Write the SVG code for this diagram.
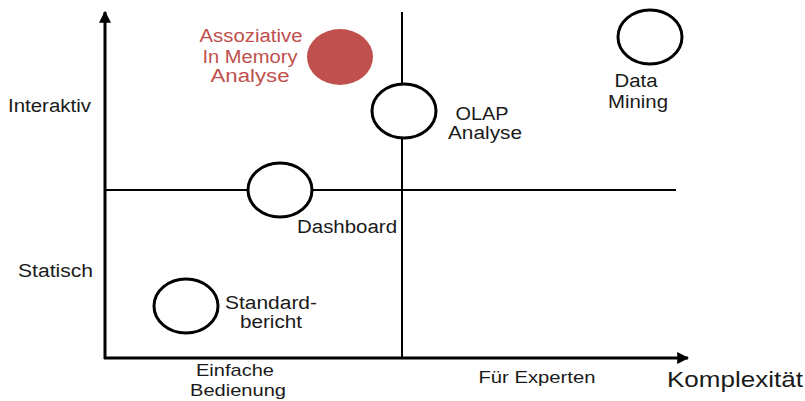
<svg xmlns="http://www.w3.org/2000/svg" width="805" height="401" viewBox="0 0 805 401">
<style>
text{font-family:"Liberation Sans",Arial,sans-serif;fill:#1a1a1a;font-size:18px}
.red{fill:#c0504d}
.c{text-anchor:middle}
.node{fill:none;stroke:#000;stroke-width:3}
.axis{stroke:#000;stroke-width:3;fill:none}
.div{stroke:#000;stroke-width:2;fill:none}
</style>
<defs>
<marker id="arr" viewBox="0 0 10 10" refX="9" refY="5" markerWidth="4" markerHeight="4" orient="auto"><path d="M0,0 L10,5 L0,10 z" fill="#000"/></marker>
</defs>
<g id="connectors">
<line class="axis" x1="105" y1="359" x2="105" y2="12" marker-end="url(#arr)"/>
<line class="axis" x1="104" y1="358" x2="688" y2="358" marker-end="url(#arr)"/>
<line class="div" x1="402" y1="12" x2="402" y2="358"/>
<line class="div" x1="105" y1="190" x2="676" y2="190"/>
</g>
<g id="axis-labels">
<text x="8" y="112" textLength="83" lengthAdjust="spacingAndGlyphs">Interaktiv</text>
<text x="18" y="277" textLength="75" lengthAdjust="spacingAndGlyphs">Statisch</text>
<text class="c" x="235" y="376" style="font-size:17px" textLength="78" lengthAdjust="spacingAndGlyphs">Einfache</text>
<text class="c" x="238" y="396" style="font-size:17px" textLength="96" lengthAdjust="spacingAndGlyphs">Bedienung</text>
<text class="c" x="537" y="383" style="font-size:17px" textLength="117" lengthAdjust="spacingAndGlyphs">Für Experten</text>
<text x="667" y="387" style="font-size:22px" textLength="136" lengthAdjust="spacingAndGlyphs">Komplexität</text>
</g>
<g id="node-associative">
<ellipse cx="340" cy="57" rx="33" ry="28" fill="#c0504d"/>
<text class="c red" x="251" y="42" textLength="103" lengthAdjust="spacingAndGlyphs">Assoziative</text>
<text class="c red" x="250" y="63" textLength="95" lengthAdjust="spacingAndGlyphs">In Memory</text>
<text class="c red" x="250" y="82" textLength="79" lengthAdjust="spacingAndGlyphs">Analyse</text>
</g>
<g id="node-olap">
<ellipse class="node" cx="404" cy="111" rx="32" ry="27" style="fill:#fff"/>
<text class="c" x="482" y="120" textLength="53" lengthAdjust="spacingAndGlyphs">OLAP</text>
<text class="c" x="485" y="139" textLength="74" lengthAdjust="spacingAndGlyphs">Analyse</text>
</g>
<g id="node-datamining">
<ellipse class="node" cx="650" cy="37" rx="32" ry="27"/>
<text class="c" x="636" y="87" textLength="43" lengthAdjust="spacingAndGlyphs">Data</text>
<text class="c" x="638" y="108" textLength="60" lengthAdjust="spacingAndGlyphs">Mining</text>
</g>
<g id="node-dashboard">
<ellipse class="node" cx="280" cy="190" rx="32" ry="27" style="fill:#fff"/>
<text x="297" y="233" textLength="100" lengthAdjust="spacingAndGlyphs">Dashboard</text>
</g>
<g id="node-standard">
<ellipse class="node" cx="186" cy="306" rx="32" ry="27"/>
<text x="225" y="309" textLength="92" lengthAdjust="spacingAndGlyphs">Standard-</text>
<text class="c" x="271" y="328" textLength="62" lengthAdjust="spacingAndGlyphs">bericht</text>
</g>
</svg>
